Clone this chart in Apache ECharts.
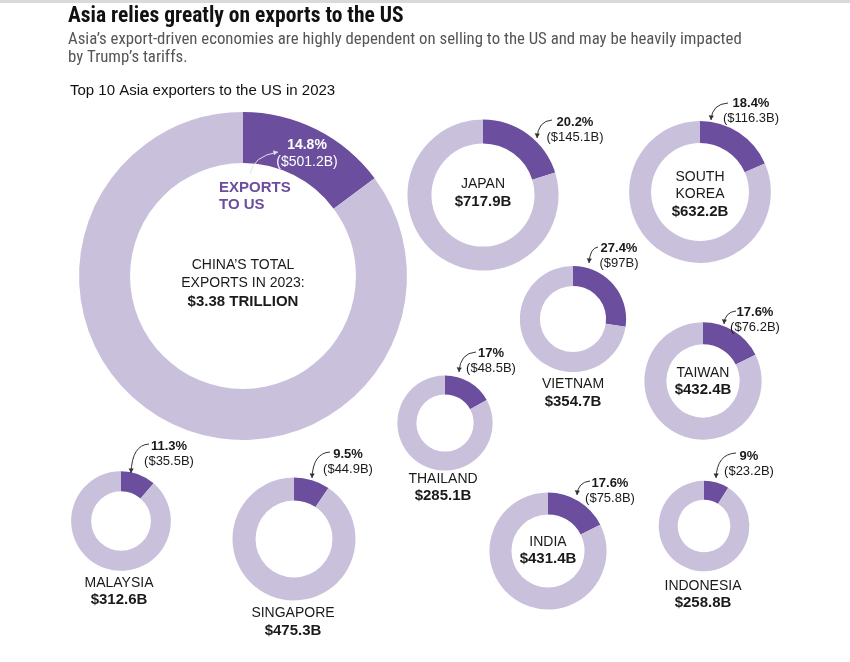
<!DOCTYPE html>
<html>
<head>
<meta charset="utf-8">
<script src="https://cdn.jsdelivr.net/npm/echarts@6/dist/echarts.min.js"></script>
<style>
html,body{margin:0;padding:0;background:#ffffff;}
#chart{width:850px;height:662px;}
</style>
</head>
<body>
<div id="chart"></div>
<script>
// ---- DATA ----
const countries = ['China','Japan','South Korea','Vietnam','Taiwan','Thailand','Malaysia','Singapore','India','Indonesia'];
const totalExports = [3380, 717.9, 632.2, 354.7, 432.4, 285.1, 312.6, 475.3, 431.4, 258.8]; // $B, 2023
const usExports = [501.2, 145.1, 116.3, 97, 76.2, 48.5, 35.5, 44.9, 75.8, 23.2];           // $B to US
const shareLabels = ['14.8%','20.2%','18.4%','27.4%','17.6%','17%','11.3%','9.5%','17.6%','9%'];
const usLabels = ['($501.2B)','($145.1B)','($116.3B)','($97B)','($76.2B)','($48.5B)','($35.5B)','($44.9B)','($75.8B)','($23.2B)'];
const nameLines = [['CHINA\u2019S TOTAL','EXPORTS IN 2023:'],['JAPAN'],['SOUTH','KOREA'],['VIETNAM'],['TAIWAN'],['THAILAND'],['MALAYSIA'],['SINGAPORE'],['INDIA'],['INDONESIA']];
const totalLabels = ['$3.38 TRILLION','$717.9B','$632.2B','$354.7B','$432.4B','$285.1B','$312.6B','$475.3B','$431.4B','$258.8B'];

// ---- LAYOUT (positions / sizes only) ----
const RADIUS_K = 2.82; // outer radius = k * sqrt(total)
const layout = [
  {cx:243, cy:276, thick:51, tx:243, ty:265, lh:18.5, ax:307, ay:145, arrow:[250,174,278,152]},
  {cx:483, cy:195, thick:24, tx:483, ty:184, lh:18,   ax:575, ay:122, arrow:[552,120,537,138]},
  {cx:700, cy:192, thick:22, tx:700, ty:177, lh:17.5, ax:751, ay:103, arrow:[728,103,711,120]},
  {cx:573, cy:319, thick:20, tx:573, ty:384, lh:18,   ax:619, ay:248, arrow:[598,247,589,263]},
  {cx:703, cy:381, thick:22, tx:703, ty:373, lh:17,   ax:755, ay:312, arrow:[736,311,724,324]},
  {cx:445, cy:423, thick:19, tx:443, ty:479, lh:16.5, ax:491, ay:353, arrow:[476,352,459,372]},
  {cx:121, cy:521, thick:20, tx:119, ty:583, lh:16.5, ax:169, ay:446, arrow:[149,444,131,473]},
  {cx:294, cy:539, thick:23, tx:293, ty:613, lh:18,   ax:348, ay:454, arrow:[330,452,312,478]},
  {cx:548, cy:551, thick:22, tx:548, ty:542, lh:16.5, ax:610, ay:483, arrow:[590,481,577,495]},
  {cx:704, cy:526, thick:19, tx:703, ty:586, lh:16.5, ax:749, ay:456, arrow:[736,453,716,478]}
];

const DARK = '#6b4e9d';
const LIGHT = '#c9c0dc';
const FONT = 'Arial, "Liberation Sans", sans-serif';
const NARROW = '"Liberation Sans Narrow", "Roboto Condensed", Arial, sans-serif';

const chart = echarts.init(document.getElementById('chart'), null, {renderer:'canvas'});

const series = countries.map((c, i) => {
  const L = layout[i];
  const r = RADIUS_K * Math.sqrt(totalExports[i]);
  return {
    type: 'pie',
    name: c,
    center: [L.cx, L.cy],
    radius: [r - L.thick, r],
    startAngle: 90,
    clockwise: true,
    silent: true,
    animation: false,
    label: {show: false},
    labelLine: {show: false},
    emphasis: {disabled: true},
    itemStyle: {borderWidth: 0},
    data: [
      {name: 'Exports to US', value: usExports[i], itemStyle: {color: DARK}},
      {name: 'Other exports', value: totalExports[i] - usExports[i], itemStyle: {color: LIGHT}}
    ]
  };
});

const graphics = [];
// thin top strip of the screenshot frame
graphics.push({type:'rect', z:-9, shape:{x:0,y:0,width:850,height:3}, style:{fill:'#d9d9d9'}});

function txt(x, y, text, opt) {
  graphics.push({
    type: 'text', z: 10, x: x, y: y,
    style: Object.assign({
      text: text, fill: '#1a1a1a', font: '14px ' + FONT,
      textAlign: 'center', textVerticalAlign: 'middle'
    }, opt || {})
  });
}

function arrow(sx, sy, ex, ey, cpx, cpy, color) {
  graphics.push({
    type: 'bezierCurve', z: 10,
    shape: {x1: sx, y1: sy, x2: ex, y2: ey, cpx1: cpx, cpy1: cpy},
    style: {stroke: color, lineWidth: 1, fill: null}
  });
  const ang = Math.atan2(ey - cpy, ex - cpx);
  const s = 4.5, w = 2.6;
  const bx = ex - Math.cos(ang) * s, by = ey - Math.sin(ang) * s;
  const px = -Math.sin(ang) * w, py = Math.cos(ang) * w;
  graphics.push({
    type: 'polygon', z: 10,
    shape: {points: [[ex, ey], [bx + px, by + py], [bx - px, by - py]]},
    style: {fill: color}
  });
}

// headings
txt(68, 17, 'Asia relies greatly on exports to the US', {textAlign:'left', font:'bold 21.5px ' + NARROW, fill:'#111'});
txt(68, 40, 'Asia\u2019s export-driven economies are highly dependent on selling to the US and may be heavily impacted', {textAlign:'left', font:'16.8px ' + NARROW, fill:'#555'});
txt(68, 58, 'by Trump\u2019s tariffs.', {textAlign:'left', font:'16.8px ' + NARROW, fill:'#555'});
txt(70, 91, 'Top 10 Asia exporters to the US in 2023', {textAlign:'left', font:'15px ' + FONT, fill:'#111'});

countries.forEach((c, i) => {
  const L = layout[i];
  const big = i === 0;
  const nameFont = '14px ' + FONT;
  const totFont = 'bold 15px ' + FONT;
  nameLines[i].forEach((ln, k) => txt(L.tx, L.ty + k * L.lh, ln, {font: nameFont}));
  txt(L.tx, L.ty + nameLines[i].length * L.lh, totalLabels[i], {font: totFont});
  const a = L.arrow;
  if (big) {
    txt(L.ax, L.ay, shareLabels[i], {font: 'bold 14px ' + FONT, fill: '#ffffff'});
    txt(L.ax, L.ay + 17, usLabels[i], {font: '14px ' + FONT, fill: '#ffffff'});
    arrow(a[0], a[1], a[2], a[3], a[0] + 3, a[3] + 4, '#e4e0ea');
    txt(219, 188, 'EXPORTS', {textAlign: 'left', font: 'bold 15px ' + FONT, fill: DARK});
    txt(219, 205, 'TO US', {textAlign: 'left', font: 'bold 15px ' + FONT, fill: DARK});
  } else {
    txt(L.ax, L.ay, shareLabels[i], {font: 'bold 13px ' + FONT});
    txt(L.ax, L.ay + 15.5, usLabels[i], {font: '13px ' + FONT});
    arrow(a[0], a[1], a[2], a[3], a[2] + 1, a[1] + 1, '#333333');
  }
});

chart.setOption({
  backgroundColor: '#ffffff',
  animation: false,
  series: series,
  graphic: {elements: graphics}
});
</script>
</body>
</html>
